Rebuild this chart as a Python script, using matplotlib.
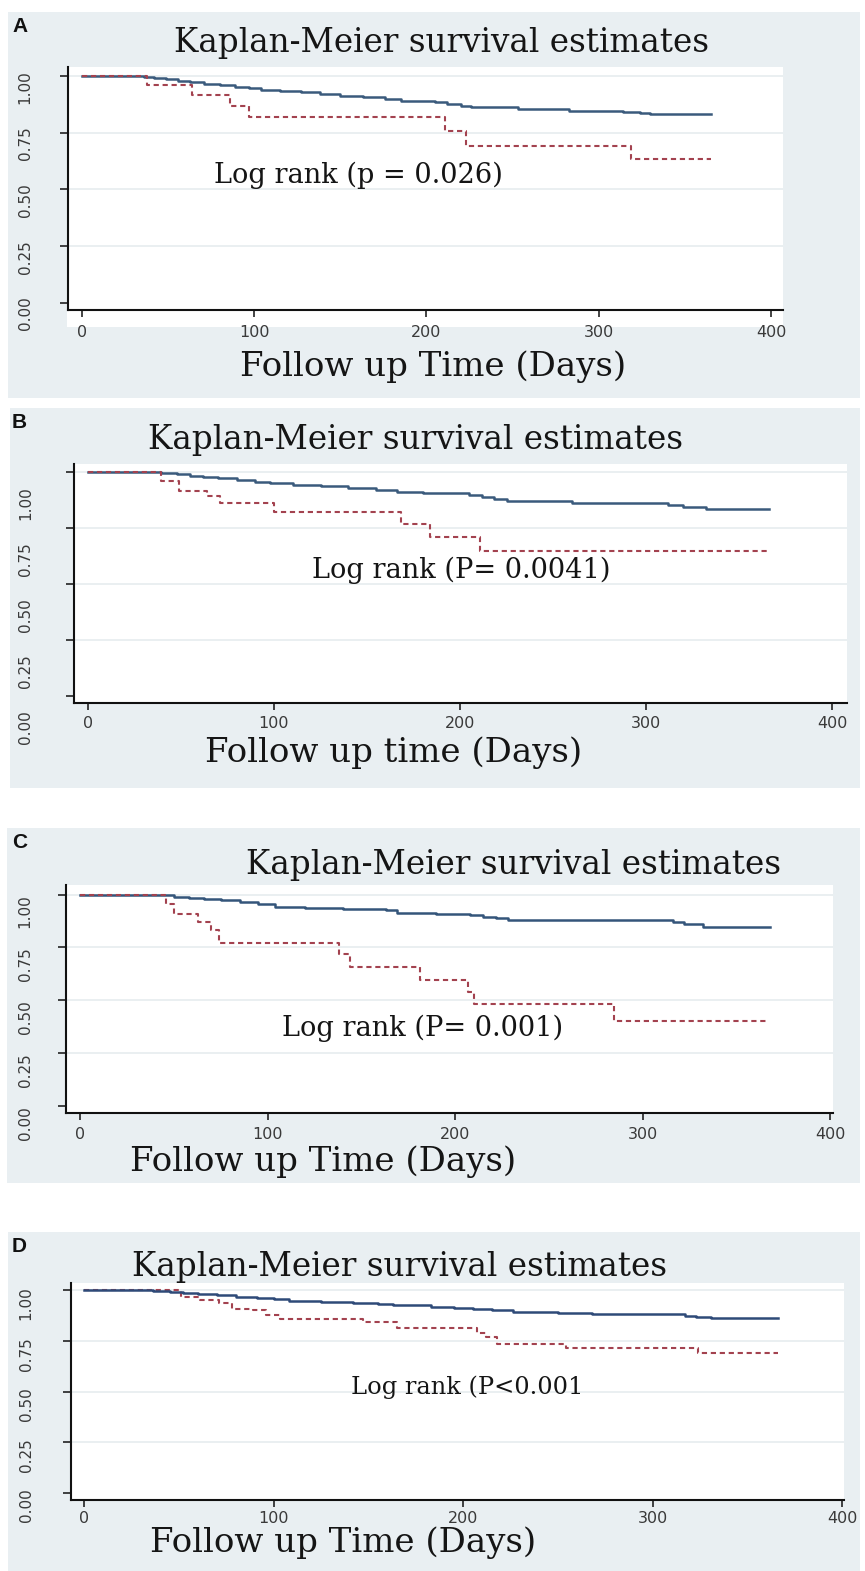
import matplotlib
matplotlib.use('Agg')
import matplotlib.pyplot as plt
import matplotlib.transforms as mtransforms
from matplotlib.patches import Rectangle

# Kaplan-Meier curves (time in days, survival)
a_blue_t = [0, 36, 42, 49, 56, 63, 71, 80, 89, 97, 104, 115, 127, 138, 150, 163, 176, 185, 205, 212, 220, 226, 253, 283, 314, 324, 330, 365]
a_blue_s = [1.000, 0.995, 0.990, 0.985, 0.979, 0.973, 0.967, 0.960, 0.953, 0.946, 0.939, 0.934, 0.928, 0.921, 0.914, 0.906, 0.898, 0.890, 0.884, 0.877, 0.870, 0.864, 0.855, 0.847, 0.841, 0.836, 0.831, 0.831]
a_red_t = [0, 38, 64, 86, 97, 211, 223, 319, 365]
a_red_s = [1.0, 0.960, 0.916, 0.869, 0.818, 0.758, 0.693, 0.633, 0.633]

b_blue_t = [0, 39, 48, 55, 62, 70, 80, 90, 98, 110, 125, 140, 155, 166, 180, 205, 212, 218, 225, 260, 312, 320, 332, 366]
b_blue_s = [1.0, 0.996, 0.991, 0.985, 0.979, 0.973, 0.966, 0.958, 0.950, 0.944, 0.937, 0.930, 0.922, 0.914, 0.908, 0.900, 0.890, 0.880, 0.870, 0.862, 0.855, 0.845, 0.834, 0.834]
b_red_t = [0, 39, 49, 64, 71, 100, 168, 184, 211, 366]
b_red_s = [1.0, 0.960, 0.915, 0.892, 0.862, 0.822, 0.768, 0.713, 0.650, 0.650]

c_blue_t = [0, 43, 50, 58, 66, 75, 85, 95, 104, 120, 140, 163, 169, 190, 208, 215, 222, 228, 316, 322, 332, 368]
c_blue_s = [1.0, 0.996, 0.990, 0.984, 0.979, 0.974, 0.965, 0.955, 0.942, 0.938, 0.933, 0.927, 0.913, 0.908, 0.903, 0.895, 0.887, 0.879, 0.871, 0.860, 0.848, 0.848]
c_red_t = [0, 46, 50, 63, 70, 74, 138, 144, 181, 207, 210, 285, 367]
c_red_s = [1.0, 0.955, 0.908, 0.868, 0.830, 0.772, 0.718, 0.658, 0.595, 0.540, 0.480, 0.401, 0.401]

d_blue_t = [0, 36, 45, 52, 60, 70, 80, 91, 100, 108, 125, 142, 155, 163, 183, 195, 205, 215, 226, 250, 268, 285, 317, 323, 331, 366]
d_blue_s = [1.0, 0.997, 0.993, 0.988, 0.982, 0.976, 0.970, 0.963, 0.957, 0.950, 0.944, 0.938, 0.932, 0.926, 0.920, 0.914, 0.908, 0.902, 0.896, 0.890, 0.886, 0.882, 0.875, 0.869, 0.863, 0.863]
d_red_t = [0, 51, 61, 71, 78, 89, 96, 103, 147, 165, 207, 212, 218, 254, 324, 366]
d_red_s = [1.0, 0.970, 0.954, 0.938, 0.909, 0.904, 0.880, 0.858, 0.842, 0.814, 0.790, 0.772, 0.735, 0.715, 0.693, 0.693]

x_ticks = [0, 100, 200, 300, 400]
y_ticks = [0.0, 0.25, 0.5, 0.75, 1.0]
y_ticklabels = ['0.00', '0.25', '0.50', '0.75', '1.00']
grid_levels = [0.25, 0.5, 0.75, 1.0]

letters = ['A', 'B', 'C', 'D']
titles = ['Kaplan-Meier survival estimates'] * 4
xlabels = ['Follow up Time (Days)', 'Follow up time (Days)', 'Follow up Time (Days)', 'Follow up Time (Days)']
logrank = ['Log rank (p = 0.026)', 'Log rank (P= 0.0041)', 'Log rank (P= 0.001)', 'Log rank (P<0.001']

W, H = 865, 1571
BG = '#e9eff2'
BLUE = '#3a5a7c'
RED = '#a3424f'

# layout of each panel in pixels
layout = [
    dict(box=(8, 12, 860, 398), ax=(68, 67, 783, 310), xlim=(-8.1, 407), ylim=(-0.032, 1.04),
         title=(442, 43), lr=(358, 175), lr_size=19.6, xl=(433, 367), ypad=19.5, ydy=0, xpad=6,
         strip=(67, 310, 783, 327), red_top=True, blue=BLUE),
    dict(box=(10, 408, 860, 788), ax=(74, 464, 847, 703), xlim=(-7.5, 408), ylim=(-0.031, 1.037),
         title=(415, 440), lr=(461, 570), lr_size=19.6, xl=(394, 753), ypad=23.5, ydy=20, xpad=4,
         strip=None, red_top=True, blue=BLUE),
    dict(box=(7, 828, 860, 1183), ax=(66, 885, 833, 1113), xlim=(-7.6, 401.6), ylim=(-0.033, 1.045),
         title=(513, 865), lr=(423, 1028), lr_size=19.6, xl=(323, 1162), ypad=18, ydy=6, xpad=5,
         strip=None, red_top=True, blue='#34557a'),
    dict(box=(8, 1232, 860, 1571), ax=(71, 1283, 844, 1500), xlim=(-7.1, 401), ylim=(-0.036, 1.037),
         title=(399, 1267), lr=(467, 1387), lr_size=17.4, xl=(343, 1543), ypad=21, ydy=2, xpad=3,
         strip=None, red_top=False, blue='#2e4a78'),
]

curves = [
    (a_blue_t, a_blue_s, a_red_t, a_red_s),
    (b_blue_t, b_blue_s, b_red_t, b_red_s),
    (c_blue_t, c_blue_s, c_red_t, c_red_s),
    (d_blue_t, d_blue_s, d_red_t, d_red_s),
]


def fx(px):
    return px / W


def fy(py):
    return 1 - py / H


def frect(x0, y0, x1, y1):
    return [fx(x0), fy(y1), (x1 - x0) / W, (y1 - y0) / H]


fig = plt.figure(figsize=(W / 100, H / 100), dpi=100)
fig.patch.set_facecolor('white')

for i, lay in enumerate(layout):
    bx = frect(*lay['box'])
    fig.add_artist(Rectangle((bx[0], bx[1]), bx[2], bx[3], transform=fig.transFigure,
                             facecolor=BG, edgecolor='none', zorder=-2))
    if lay['strip']:
        st = frect(*lay['strip'])
        fig.add_artist(Rectangle((st[0], st[1]), st[2], st[3], transform=fig.transFigure,
                                 facecolor='white', edgecolor='none', zorder=-1))

    ax = fig.add_axes(frect(*lay['ax']))
    ax.set_facecolor('white')
    ax.set_xlim(*lay['xlim'])
    ax.set_ylim(*lay['ylim'])
    for s in ['top', 'right']:
        ax.spines[s].set_visible(False)
    for s in ['left', 'bottom']:
        ax.spines[s].set_linewidth(1.5)
        ax.spines[s].set_color('#111111')

    for g in grid_levels:
        ax.axhline(g, color='#e6ecef', lw=1.2, zorder=1)

    bt, bs, rt, rs = curves[i]
    ax.step(bt, bs, where='post', color=lay['blue'], lw=1.8, zorder=4 if not lay['red_top'] else 3)
    ax.step(rt, rs, where='post', color=RED, lw=1.5, linestyle=(0, (2.5, 1.8)),
            zorder=4 if lay['red_top'] else 3)

    ax.set_xticks(x_ticks)
    ax.set_yticks(y_ticks)
    ax.set_yticklabels(y_ticklabels)
    ax.tick_params(axis='x', direction='out', length=5, width=1.1, color='#111111',
                   pad=lay['xpad'], labelsize=11.5, labelcolor='#3a3a3a')
    ax.tick_params(axis='y', direction='out', length=6, width=1.1, color='#111111',
                   pad=lay['ypad'], labelsize=11, labelcolor='#3a3a3a', labelrotation=90)
    for lab in ax.get_xticklabels() + ax.get_yticklabels():
        lab.set_family('DejaVu Sans')
    if lay['ydy']:
        shift = mtransforms.ScaledTranslation(0, -lay['ydy'] / 100, fig.dpi_scale_trans)
        for lab in ax.get_yticklabels():
            lab.set_transform(lab.get_transform() + shift)

    fig.text(fx(12), fy(lay['box'][1] + 14), letters[i], family='Liberation Sans',
             fontweight='bold', fontsize=15, ha='left', va='center', color='#111111')
    fig.text(fx(lay['title'][0]), fy(lay['title'][1]), titles[i], family='DejaVu Serif',
             fontsize=23.5, ha='center', va='center', color='#151515')
    fig.text(fx(lay['lr'][0]), fy(lay['lr'][1]), logrank[i], family='DejaVu Serif',
             fontsize=lay['lr_size'], ha='center', va='center', color='#151515')
    fig.text(fx(lay['xl'][0]), fy(lay['xl'][1]), xlabels[i], family='DejaVu Serif',
             fontsize=24.5, ha='center', va='center', color='#151515')

fig.savefig('out.png', dpi=100)
